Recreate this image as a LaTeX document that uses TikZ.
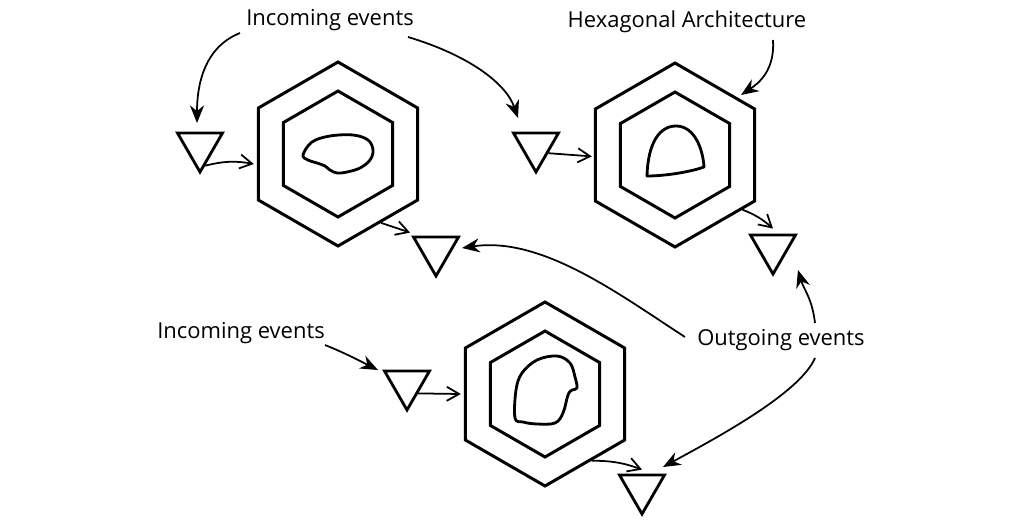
\documentclass[tikz,border=0pt]{standalone}
\usepackage{fontspec}
\setmainfont{Open Sans}
\usetikzlibrary{shapes.geometric,arrows.meta,calc}
\begin{document}
\begin{tikzpicture}[x=0.02cm,y=-0.02cm,
  hexout/.style={draw, line width=1.7pt, regular polygon, regular polygon sides=6, shape border rotate=30, inner sep=0pt, minimum size=3.68cm},
  hexin/.style={draw, line width=1.7pt, regular polygon, regular polygon sides=6, shape border rotate=30, inner sep=0pt, minimum size=2.52cm},
  port/.style={draw, line width=1.6pt, regular polygon, regular polygon sides=3, shape border rotate=180, inner sep=0pt, minimum size=1.04cm},
  blob/.style={line width=1.6pt, line join=round},
  lab/.style={font=\fontsize{12.5}{14}\selectfont, inner sep=1pt},
  small/.style={line width=1pt, -{Straight Barb[length=7pt,width=8pt,line width=1pt]}},
  big/.style={line width=1pt, -{Stealth[length=10pt,width=8pt]}}]
\useasboundingbox[fill=white] (0,0) rectangle (1024,531);

% hexagons
\node[hexout] (hexA) at (338,154) {};
\node[hexin]  (hexAi) at (338,154) {};
\node[hexout] (hexB) at (675,155) {};
\node[hexin]  (hexBi) at (675,155) {};
\node[hexout] (hexC) at (545,394) {};
\node[hexin]  (hexCi) at (545,394) {};

% ports
\node[port] (tri1) at (200,146) {};
\node[port] (tri2) at (436,250) {};
\node[port] (tri3) at (536,146) {};
\node[port] (tri4) at (773,248) {};
\node[port] (tri5) at (407,384) {};
\node[port] (tri6) at (642,488) {};

% blobs
\draw[blob] plot[smooth cycle, tension=0.6] coordinates {(303,155) (312,142) (330,136) (353,135) (368,140) (373,150) (370,160) (360,168) (347,172) (337,173) (330,170) (325,166) (317,163) (308,160)};
\draw[blob] (647,176) .. controls (648,142) and (660,126) .. (676,126) .. controls (695,126) and (703,150) .. (704,167) .. controls (690,172) and (665,176) .. (647,176) -- cycle;
\draw[blob] plot[smooth cycle, tension=0.6] coordinates {(515,418) (516,390) (522,373) (537,360) (557,356) (570,363) (575,377) (577,388) (572,390) (568,395) (563,413) (555,423) (537,424) (523,422)};

% labels
\node[lab] (labIn1) at (330,20) {Incoming events};
\node[lab] (labHex) at (687,22) {Hexagonal Architecture};
\node[lab] (labIn2) at (241,333) {Incoming events};
\node[lab] (labOut) at (781,340) {Outgoing events};

% small arrows (port <-> hexagon)
\draw[small] (tri1.-75) to[bend left=12] ([xshift=-0.06cm]hexA.-173);
\draw[small] (hexA.-58) -- ([shift={(-0.02cm,0.06cm)}]tri2.150);
\draw[small] (tri3.-30) -- ([xshift=-0.04cm]hexB.181);
\draw[small] (hexB.-39) to[bend left=10] ([yshift=0.1cm]tri4.90);
\draw[small] (tri5.-40) -- ([xshift=-0.06cm]hexC.180);
\draw[small] (hexC.-55) to[bend left=10] ([yshift=0.08cm]tri6.90);

% callout arrows
\draw[big] ($(labIn1.center)+(-90,13)$) .. controls +(-35,14) and +(0,-40) .. ($(tri1.center)+(-3,-23)$);
\draw[big] ($(labIn1.center)+(78,17)$) .. controls +(60,18) and +(-12,-35) .. ($(tri3.center)+(-18,-28)$);
\draw[big] ($(labHex.center)+(86,18)$) .. controls +(2,30) and +(18,-12) .. ($(hexB.center)+(66,-60)$);
\draw[big] ($(labOut.center)+(34,-17)$) .. controls +(-3,-25) and +(6,20) .. ($(tri4.center)+(25,22)$);
\draw[big] ($(labOut.center)+(-96,-3)$) .. controls +(-65,-42) and +(80,-12) .. ($(tri2.center)+(26,-2)$);
\draw[big] ($(labOut.center)+(34,18)$) .. controls +(-15,35) and +(55,-30) .. ($(tri6.center)+(21,-21)$);
\draw[big] ($(labIn2.center)+(84,12)$) .. controls +(20,8) and +(-20,-10) .. ($(tri5.center)+(-29,-14)$);
\end{tikzpicture}
\end{document}
